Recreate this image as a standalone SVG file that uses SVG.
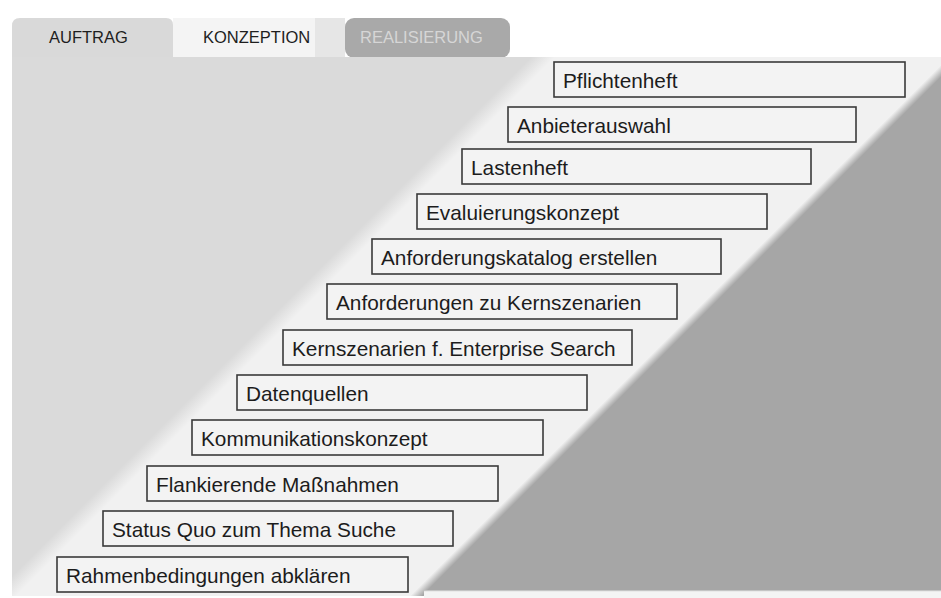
<svg xmlns="http://www.w3.org/2000/svg" width="941" height="598" viewBox="0 0 941 598">
  <defs>
    <style>
      .tab-label { font-family: "Liberation Sans", Arial, sans-serif; font-size: 16.5px; }
      .step rect { fill: #f3f3f3; stroke: #3a3a3a; stroke-width: 1.6; }
      .step text { font-family: "Liberation Sans", Arial, sans-serif; font-size: 20.8px; fill: #1c1c1c; }
    </style>
    <!-- diagonal phase areas: light (left), open band, dark (right); soft transitions -->
    <linearGradient id="phaseGrad" gradientUnits="userSpaceOnUse" x1="0" y1="0" x2="1000" y2="1000">
      <stop offset="0" stop-color="#dadada"/>
      <stop offset="0.294" stop-color="#dadada"/>
      <stop offset="0.306" stop-color="#f1f1f1"/>
      <stop offset="0.503" stop-color="#f1f1f1"/>
      <stop offset="0.509" stop-color="#a6a6a6"/>
      <stop offset="1" stop-color="#a6a6a6"/>
    </linearGradient>
  </defs>

  <!-- page -->
  <rect x="0" y="0" width="941" height="598" fill="#ffffff"/>

  <!-- phase tabs -->
  <g id="tabs">
    <g id="tab-auftrag">
      <path d="M12,58 V26 Q12,18 20,18 H166 Q173,18 173,25 V58 Z" fill="#d9d9d9"/>
      <text class="tab-label" x="49" y="43" fill="#1e1e1e">AUFTRAG</text>
    </g>
    <g id="tab-konzeption">
      <rect x="173" y="18" width="142" height="40" fill="#f4f4f4"/>
      <rect x="315" y="18" width="30" height="40" fill="#e6e6e6"/>
      <text class="tab-label" x="203" y="43" fill="#1e1e1e">KONZEPTION</text>
    </g>
    <g id="tab-realisierung">
      <rect x="345" y="18" width="165" height="40" rx="9" ry="9" fill="#a9a9a9"/>
      <text class="tab-label" x="360" y="43" fill="#d6d6d6">REALISIERUNG</text>
    </g>
  </g>

  <!-- panel with phase areas -->
  <g id="panel">
    <rect x="12" y="57" width="929" height="539" fill="url(#phaseGrad)"/>
    <rect x="424" y="590" width="517" height="8" fill="#f4f4f4"/>
    <rect x="424" y="590" width="517" height="1.2" fill="#c4c4c4"/>
  </g>

  <!-- steps -->
  <g id="steps">
    <g id="step-pflichtenheft" class="step">
      <rect x="554" y="62" width="351" height="35"/>
      <text x="563" y="88">Pflichtenheft</text>
    </g>
    <g id="step-anbieterauswahl" class="step">
      <rect x="508" y="107" width="348" height="35"/>
      <text x="517" y="133">Anbieterauswahl</text>
    </g>
    <g id="step-lastenheft" class="step">
      <rect x="462" y="149" width="349" height="35"/>
      <text x="471" y="175">Lastenheft</text>
    </g>
    <g id="step-evaluierungskonzept" class="step">
      <rect x="417" y="194" width="350" height="35"/>
      <text x="426" y="220">Evaluierungskonzept</text>
    </g>
    <g id="step-anforderungskatalog" class="step">
      <rect x="372" y="239" width="349" height="35"/>
      <text x="381" y="265">Anforderungskatalog erstellen</text>
    </g>
    <g id="step-anforderungen-kernszenarien" class="step">
      <rect x="327" y="284" width="350" height="35"/>
      <text x="336" y="310">Anforderungen zu Kernszenarien</text>
    </g>
    <g id="step-kernszenarien" class="step">
      <rect x="283" y="330" width="349" height="35"/>
      <text x="292" y="356">Kernszenarien f. Enterprise Search</text>
    </g>
    <g id="step-datenquellen" class="step">
      <rect x="237" y="375" width="350" height="35"/>
      <text x="246" y="401">Datenquellen</text>
    </g>
    <g id="step-kommunikationskonzept" class="step">
      <rect x="192" y="420" width="351" height="35"/>
      <text x="201" y="446">Kommunikationskonzept</text>
    </g>
    <g id="step-flankierende-massnahmen" class="step">
      <rect x="147" y="466" width="351" height="35"/>
      <text x="156" y="492">Flankierende Maßnahmen</text>
    </g>
    <g id="step-status-quo" class="step">
      <rect x="103" y="511" width="350" height="35"/>
      <text x="112" y="537">Status Quo zum Thema Suche</text>
    </g>
    <g id="step-rahmenbedingungen" class="step">
      <rect x="57" y="557" width="351" height="35"/>
      <text x="66" y="583">Rahmenbedingungen abklären</text>
    </g>
  </g>
</svg>
